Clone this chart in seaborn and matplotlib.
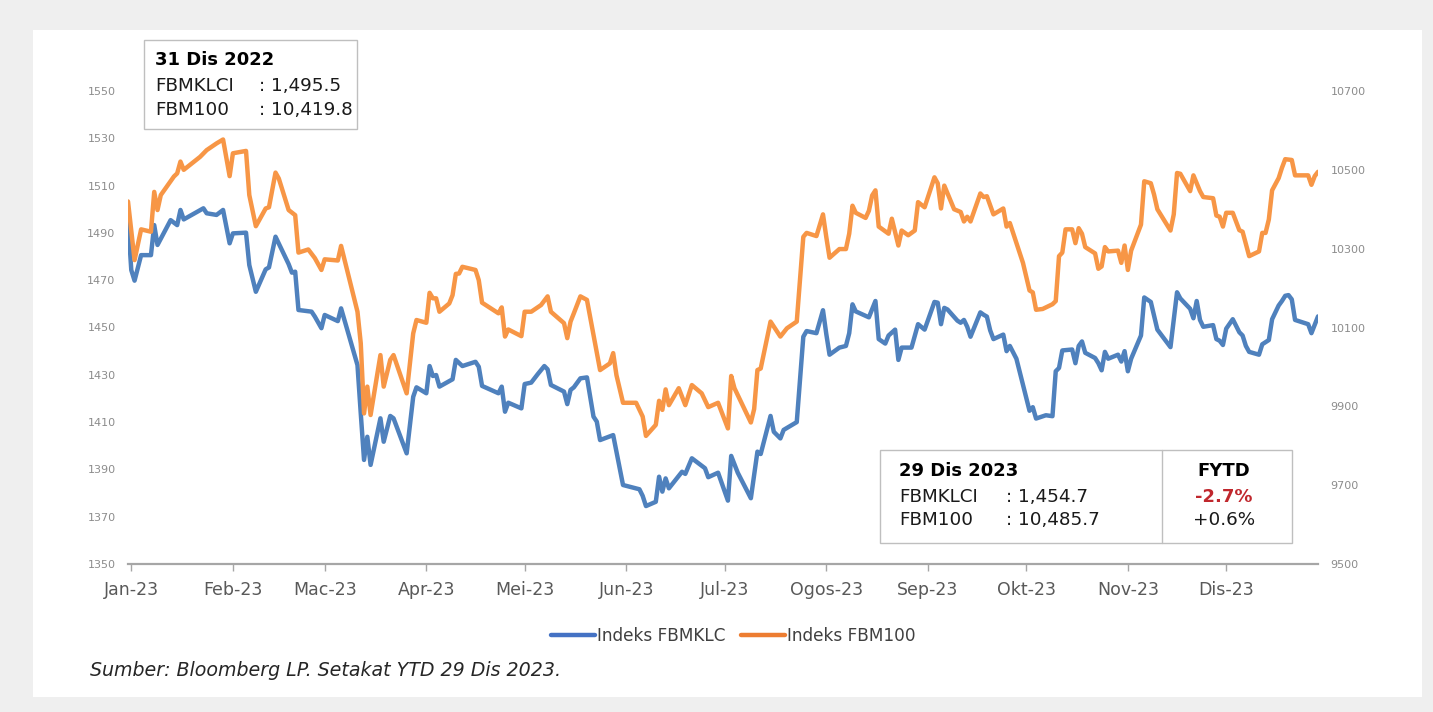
import matplotlib
matplotlib.use("Agg")
import matplotlib.pyplot as plt
from matplotlib.lines import Line2D
from matplotlib.patches import Rectangle
import pandas as pd
import seaborn as sns

# ---------------- data ----------------
month_ticks = ['2023-01-01', '2023-02-01', '2023-03-01', '2023-04-01', '2023-05-01', '2023-06-01',
               '2023-07-01', '2023-08-01', '2023-09-01', '2023-10-01', '2023-11-01', '2023-12-01']
month_labels = ['Jan-23', 'Feb-23', 'Mac-23', 'Apr-23', 'Mei-23', 'Jun-23',
                'Jul-23', 'Ogos-23', 'Sep-23', 'Okt-23', 'Nov-23', 'Dis-23']

klci_dates = [
    '2022-12-31', '2023-01-01', '2023-01-02', '2023-01-04', '2023-01-07', '2023-01-08', '2023-01-09', '2023-01-13',
    '2023-01-15', '2023-01-16', '2023-01-17', '2023-01-23', '2023-01-24', '2023-01-27', '2023-01-29', '2023-01-31',
    '2023-02-01', '2023-02-05', '2023-02-06', '2023-02-08', '2023-02-11', '2023-02-12', '2023-02-14', '2023-02-18',
    '2023-02-19', '2023-02-20', '2023-02-21', '2023-02-25', '2023-02-26', '2023-02-28',
    '2023-03-01', '2023-03-05', '2023-03-06', '2023-03-11', '2023-03-12', '2023-03-13', '2023-03-14', '2023-03-15',
    '2023-03-18', '2023-03-19', '2023-03-21', '2023-03-22', '2023-03-26', '2023-03-28', '2023-03-29',
    '2023-04-01', '2023-04-02', '2023-04-03', '2023-04-04', '2023-04-05', '2023-04-09', '2023-04-10', '2023-04-12',
    '2023-04-16', '2023-04-17', '2023-04-18', '2023-04-23', '2023-04-24', '2023-04-25', '2023-04-26', '2023-04-30',
    '2023-05-01', '2023-05-03', '2023-05-05', '2023-05-07', '2023-05-08', '2023-05-09', '2023-05-13', '2023-05-14',
    '2023-05-15', '2023-05-16', '2023-05-18', '2023-05-20', '2023-05-22', '2023-05-23', '2023-05-24', '2023-05-28',
    '2023-05-31',
    '2023-06-05', '2023-06-06', '2023-06-07', '2023-06-10', '2023-06-11', '2023-06-12', '2023-06-13', '2023-06-14',
    '2023-06-18', '2023-06-19', '2023-06-21', '2023-06-25', '2023-06-26', '2023-06-29',
    '2023-07-02', '2023-07-03', '2023-07-05', '2023-07-09', '2023-07-11', '2023-07-12', '2023-07-15', '2023-07-16',
    '2023-07-18', '2023-07-19', '2023-07-23', '2023-07-25', '2023-07-26', '2023-07-29', '2023-07-31',
    '2023-08-01', '2023-08-02', '2023-08-05', '2023-08-07', '2023-08-08', '2023-08-09', '2023-08-10', '2023-08-14',
    '2023-08-16', '2023-08-17', '2023-08-19', '2023-08-20', '2023-08-22', '2023-08-23', '2023-08-24', '2023-08-27',
    '2023-08-29', '2023-08-31',
    '2023-09-03', '2023-09-04', '2023-09-05', '2023-09-06', '2023-09-07', '2023-09-10', '2023-09-11', '2023-09-12',
    '2023-09-13', '2023-09-14', '2023-09-17', '2023-09-18', '2023-09-19', '2023-09-20', '2023-09-21', '2023-09-24',
    '2023-09-25', '2023-09-26', '2023-09-28',
    '2023-10-02', '2023-10-03', '2023-10-04', '2023-10-07', '2023-10-09', '2023-10-10', '2023-10-11', '2023-10-12',
    '2023-10-15', '2023-10-16', '2023-10-17', '2023-10-18', '2023-10-19', '2023-10-22', '2023-10-23', '2023-10-24',
    '2023-10-25', '2023-10-26', '2023-10-29', '2023-10-30', '2023-10-31',
    '2023-11-01', '2023-11-02', '2023-11-05', '2023-11-06', '2023-11-08', '2023-11-10', '2023-11-14', '2023-11-15',
    '2023-11-16', '2023-11-17', '2023-11-20', '2023-11-21', '2023-11-22', '2023-11-23', '2023-11-24', '2023-11-27',
    '2023-11-28', '2023-11-29', '2023-11-30',
    '2023-12-01', '2023-12-03', '2023-12-05', '2023-12-06', '2023-12-07', '2023-12-08', '2023-12-11', '2023-12-12',
    '2023-12-14', '2023-12-15', '2023-12-17', '2023-12-18', '2023-12-19', '2023-12-20', '2023-12-21', '2023-12-22',
    '2023-12-26', '2023-12-27', '2023-12-29',
]
klci_vals = [
    1495.5, 1474.3, 1469.8, 1480.6, 1480.6, 1493.3, 1484.9, 1495.4, 1493.3, 1499.7, 1495.7, 1500.4, 1498.3, 1497.6,
    1499.7, 1485.6,
    1489.8, 1490.1, 1476.4, 1465.1, 1474.6, 1475.4, 1488.4, 1476.8, 1473.2, 1473.6, 1457.4, 1456.7, 1454.6, 1449.7,
    1455.3, 1452.7, 1458.1, 1434.1, 1413.7, 1394.0, 1403.8, 1391.9, 1411.6, 1401.7, 1412.6, 1411.6, 1396.8, 1420.7,
    1424.7,
    1422.2, 1433.7, 1429.5, 1429.9, 1425.0, 1428.1, 1436.3, 1433.7, 1435.5, 1433.4, 1425.3, 1422.2, 1425.0, 1414.4,
    1418.2, 1415.8,
    1426.1, 1426.7, 1430.3, 1433.7, 1432.3, 1425.7, 1422.9, 1417.6, 1423.6, 1424.7, 1428.5, 1428.9, 1412.3, 1410.2,
    1402.4, 1404.5, 1383.4,
    1381.6, 1378.8, 1374.5, 1376.3, 1386.9, 1380.6, 1386.2, 1382.0, 1389.0, 1388.1, 1394.7, 1390.5, 1386.7, 1388.6,
    1376.8, 1395.7, 1388.6, 1377.8, 1397.5, 1396.5, 1412.6, 1405.9, 1403.1, 1406.7, 1410.0, 1446.1, 1448.5, 1447.6,
    1457.3,
    1447.3, 1438.5, 1441.5, 1442.2, 1447.6, 1459.8, 1456.8, 1454.3, 1461.2, 1445.1, 1443.2, 1446.6, 1449.1, 1436.3,
    1441.5, 1441.5, 1451.4, 1449.1,
    1460.8, 1460.5, 1451.4, 1458.3, 1457.6, 1452.9, 1452.0, 1453.2, 1450.3, 1446.1, 1456.4, 1455.4, 1454.6, 1448.8,
    1445.1, 1447.0, 1440.0, 1442.2, 1436.8,
    1414.8, 1416.3, 1411.5, 1412.9, 1412.5, 1431.5, 1432.9, 1440.3, 1440.7, 1434.9, 1442.2, 1444.1, 1439.3, 1437.1,
    1434.9, 1431.9, 1439.7, 1436.8, 1438.5, 1435.6, 1440.0,
    1431.5, 1436.8, 1446.6, 1462.7, 1460.8, 1449.1, 1441.7, 1453.2, 1464.9, 1462.3, 1457.9, 1453.9, 1461.2, 1453.2,
    1450.3, 1451.0, 1445.1, 1444.4, 1442.6,
    1449.5, 1453.5, 1448.0, 1446.6, 1442.2, 1439.7, 1438.5, 1442.9, 1444.7, 1453.5, 1459.3, 1461.2, 1463.4, 1463.7,
    1461.9, 1453.2, 1451.4, 1447.6, 1454.7,
]

fbm_dates = [
    '2022-12-31', '2023-01-02', '2023-01-04', '2023-01-07', '2023-01-08', '2023-01-09', '2023-01-10', '2023-01-14',
    '2023-01-15', '2023-01-16', '2023-01-17', '2023-01-22', '2023-01-24', '2023-01-27', '2023-01-29', '2023-01-31',
    '2023-02-01', '2023-02-05', '2023-02-06', '2023-02-08', '2023-02-11', '2023-02-12', '2023-02-14', '2023-02-15',
    '2023-02-18', '2023-02-20', '2023-02-21', '2023-02-24', '2023-02-26', '2023-02-28',
    '2023-03-01', '2023-03-05', '2023-03-06', '2023-03-11', '2023-03-12', '2023-03-13', '2023-03-14', '2023-03-15',
    '2023-03-18', '2023-03-19', '2023-03-21', '2023-03-22', '2023-03-26', '2023-03-28', '2023-03-29',
    '2023-04-01', '2023-04-02', '2023-04-03', '2023-04-04', '2023-04-05', '2023-04-08', '2023-04-09', '2023-04-10',
    '2023-04-11', '2023-04-12', '2023-04-16', '2023-04-17', '2023-04-18', '2023-04-23', '2023-04-24', '2023-04-25',
    '2023-04-26', '2023-04-30',
    '2023-05-01', '2023-05-03', '2023-05-06', '2023-05-08', '2023-05-09', '2023-05-13', '2023-05-14', '2023-05-15',
    '2023-05-16', '2023-05-18', '2023-05-20', '2023-05-24', '2023-05-27', '2023-05-28', '2023-05-29', '2023-05-31',
    '2023-06-04', '2023-06-06', '2023-06-07', '2023-06-10', '2023-06-11', '2023-06-12', '2023-06-13', '2023-06-14',
    '2023-06-17', '2023-06-19', '2023-06-21', '2023-06-24', '2023-06-26', '2023-06-29',
    '2023-07-02', '2023-07-03', '2023-07-04', '2023-07-09', '2023-07-10', '2023-07-11', '2023-07-12', '2023-07-15',
    '2023-07-18', '2023-07-20', '2023-07-23', '2023-07-25', '2023-07-26', '2023-07-29', '2023-07-31',
    '2023-08-01', '2023-08-02', '2023-08-05', '2023-08-07', '2023-08-08', '2023-08-09', '2023-08-10', '2023-08-13',
    '2023-08-14', '2023-08-15', '2023-08-16', '2023-08-17', '2023-08-20', '2023-08-21', '2023-08-23', '2023-08-24',
    '2023-08-26', '2023-08-28', '2023-08-29', '2023-08-31',
    '2023-09-03', '2023-09-04', '2023-09-05', '2023-09-06', '2023-09-09', '2023-09-11', '2023-09-12', '2023-09-13',
    '2023-09-14', '2023-09-17', '2023-09-18', '2023-09-19', '2023-09-21', '2023-09-24', '2023-09-25', '2023-09-26',
    '2023-09-30',
    '2023-10-02', '2023-10-03', '2023-10-04', '2023-10-06', '2023-10-09', '2023-10-10', '2023-10-11', '2023-10-12',
    '2023-10-13', '2023-10-15', '2023-10-16', '2023-10-17', '2023-10-18', '2023-10-19', '2023-10-22', '2023-10-23',
    '2023-10-24', '2023-10-25', '2023-10-26', '2023-10-29', '2023-10-30', '2023-10-31',
    '2023-11-01', '2023-11-02', '2023-11-05', '2023-11-06', '2023-11-08', '2023-11-09', '2023-11-10', '2023-11-14',
    '2023-11-15', '2023-11-16', '2023-11-17', '2023-11-20', '2023-11-21', '2023-11-23', '2023-11-24', '2023-11-27',
    '2023-11-28', '2023-11-29', '2023-11-30',
    '2023-12-01', '2023-12-03', '2023-12-05', '2023-12-06', '2023-12-08', '2023-12-11', '2023-12-12', '2023-12-13',
    '2023-12-14', '2023-12-15', '2023-12-17', '2023-12-18', '2023-12-19', '2023-12-21', '2023-12-22', '2023-12-26',
    '2023-12-27', '2023-12-28', '2023-12-29',
]
fbm_vals = [
    10419.8, 10271, 10349, 10343, 10444, 10398, 10436, 10483, 10491, 10521, 10500, 10533, 10550, 10567, 10577, 10484,
    10542, 10548, 10436, 10357, 10402, 10405, 10493, 10478, 10398, 10385, 10290, 10298, 10276, 10246,
    10273, 10270, 10307, 10140, 10060, 9882, 9950, 9878, 10030, 9950, 10018, 10030, 9933, 10085, 10119,
    10112, 10188, 10174, 10174, 10140, 10161, 10182, 10236, 10237, 10254, 10246, 10220, 10163, 10136, 10151, 10077,
    10095, 10078,
    10140, 10140, 10157, 10179, 10140, 10111, 10073, 10115, 10136, 10179, 10170, 9992, 10009, 10035, 9979, 9909,
    9909, 9874, 9825, 9853, 9914, 9891, 9943, 9903, 9946, 9903, 9954, 9933, 9898, 9909,
    9844, 9977, 9946, 9859, 9893, 9992, 9996, 10115, 10077, 10098, 10115, 10330, 10340, 10332, 10387,
    10330, 10277, 10299, 10299, 10338, 10409, 10391, 10378, 10396, 10435, 10448, 10356, 10338, 10376, 10308, 10346,
    10334, 10346, 10418, 10405,
    10481, 10466, 10402, 10460, 10400, 10393, 10369, 10381, 10369, 10440, 10431, 10433, 10387, 10402, 10356, 10365,
    10264,
    10194, 10189, 10145, 10147, 10159, 10167, 10281, 10290, 10349, 10349, 10314, 10352, 10338, 10304, 10288, 10249,
    10255, 10304, 10293, 10295, 10264, 10308,
    10246, 10295, 10361, 10471, 10466, 10437, 10400, 10346, 10387, 10492, 10490, 10446, 10486, 10446, 10431, 10428,
    10384, 10381, 10356,
    10391, 10391, 10347, 10343, 10281, 10293, 10340, 10340, 10374, 10448, 10479, 10505, 10527, 10525, 10486, 10486,
    10462, 10484, 10495,
]

series_names = ['Indeks FBMKLC', 'Indeks FBM100']
start_title = '31 Dis 2022'
start_rows = [('FBMKLCI', ': 1,495.5'), ('FBM100', ': 10,419.8')]
end_title = '29 Dis 2023'
end_rows = [('FBMKLCI', ': 1,454.7'), ('FBM100', ': 10,485.7')]
fytd = ['-2.7%', '+0.6%']
source = 'Sumber: Bloomberg LP. Setakat YTD 29 Dis 2023.'

# ---------------- style ----------------
sns.set_theme(style="white")
plt.rcParams['font.family'] = ['DejaVu Sans']

BLUE = '#4f81bd'
ORANGE = '#f79646'
BLUE_LEG = '#4472c4'
ORANGE_LEG = '#ed7d31'
TXT = '#1a1a1a'
BOX_FS = 13.2

W, H = 1433, 712
fig = plt.figure(figsize=(W / 100, H / 100), dpi=100)
fig.patch.set_facecolor('#efefef')
fig.add_artist(Rectangle((33 / W, 1 - 697 / H), (1422 - 33) / W, (697 - 30) / H,
                         transform=fig.transFigure, facecolor='white', edgecolor='none', zorder=0))


def fx(px):
    return px / W


def fy(py):
    return 1 - py / H


ax = fig.add_axes([fx(128), fy(564), (1318 - 128) / W, (564 - 91) / H])
ax.set_facecolor('none')
ax2 = ax.twinx()

df_k = pd.DataFrame({'Tarikh': pd.to_datetime(klci_dates), 'Nilai': klci_vals})
df_f = pd.DataFrame({'Tarikh': pd.to_datetime(fbm_dates), 'Nilai': fbm_vals})

sns.lineplot(data=df_k, x='Tarikh', y='Nilai', ax=ax, color=BLUE, linewidth=3.2,
             estimator=None, legend=False, solid_joinstyle='round', solid_capstyle='round')
sns.lineplot(data=df_f, x='Tarikh', y='Nilai', ax=ax2, color=ORANGE, linewidth=3.2,
             estimator=None, legend=False, solid_joinstyle='round', solid_capstyle='round')

ax.set_xlim(pd.Timestamp('2022-12-31'), pd.Timestamp('2023-12-29'))
ax.set_ylim(1350, 1550)
ax.set_yticks(list(range(1350, 1551, 20)))
ax2.set_ylim(9500, 10700)
ax2.set_yticks(list(range(9500, 10701, 200)))
ax.set_xticks(pd.to_datetime(month_ticks))
ax.set_xticklabels(month_labels)

for a in (ax, ax2):
    a.set_xlabel('')
    a.set_ylabel('')
    a.grid(False)
    for s in ('top', 'left', 'right', 'bottom'):
        a.spines[s].set_visible(False)
ax.spines['bottom'].set_visible(True)
ax.spines['bottom'].set_color('#a6a6a6')
ax.spines['bottom'].set_linewidth(1.6)

ax.tick_params(axis='x', bottom=True, length=5, width=1, color='#a6a6a6', pad=7,
               labelsize=12.5, labelcolor='#595959')
ax.tick_params(axis='y', left=True, length=0, pad=9, labelsize=8, labelcolor='#8c8c8c')
ax2.tick_params(axis='y', right=True, labelright=True, length=0, pad=9, labelsize=8, labelcolor='#8c8c8c')

# legend
handles = [Line2D([0], [0], color=BLUE_LEG, lw=3.2, solid_capstyle='round'),
           Line2D([0], [0], color=ORANGE_LEG, lw=3.2, solid_capstyle='round')]
fig.legend(handles, series_names, loc='center', bbox_to_anchor=(fx(733), fy(636)), ncol=2,
           frameon=False, fontsize=12.2, handlelength=2.6, handletextpad=0.12, columnspacing=0.9,
           labelcolor='#404040')

# start box
fig.add_artist(Rectangle((fx(144), fy(129)), (357 - 144) / W, (129 - 40) / H, transform=fig.transFigure,
                         facecolor='white', edgecolor='#bfbfbf', linewidth=1, zorder=5))
fig.text(fx(155), fy(60), start_title, fontsize=13, fontweight='bold', color='black', va='center', zorder=6)
for i, (k, v) in enumerate(start_rows):
    yy = fy(86 + 24 * i)
    fig.text(fx(155), yy, k, fontsize=BOX_FS, color=TXT, va='center', zorder=6)
    fig.text(fx(259), yy, v, fontsize=BOX_FS, color=TXT, va='center', zorder=6)

# end box
fig.add_artist(Rectangle((fx(880), fy(543)), (1292 - 880) / W, (543 - 450) / H, transform=fig.transFigure,
                         facecolor='white', edgecolor='#bfbfbf', linewidth=1, zorder=5))
fig.add_artist(Line2D([fx(1162), fx(1162)], [fy(450), fy(543)], transform=fig.transFigure,
                      color='#bfbfbf', linewidth=1, zorder=6))
fig.text(fx(899), fy(471), end_title, fontsize=13, fontweight='bold', color='black', va='center', zorder=6)
for i, (k, v) in enumerate(end_rows):
    yy = fy(497 + 23 * i)
    fig.text(fx(899), yy, k, fontsize=BOX_FS, color=TXT, va='center', zorder=6)
    fig.text(fx(1006), yy, v, fontsize=BOX_FS, color=TXT, va='center', zorder=6)
fig.text(fx(1224), fy(471), 'FYTD', fontsize=13, fontweight='bold', color='black', va='center',
         ha='center', zorder=6)
fig.text(fx(1224), fy(497), fytd[0], fontsize=13, fontweight='bold', color='#c0272d', va='center',
         ha='center', zorder=6)
fig.text(fx(1224), fy(520), fytd[1], fontsize=BOX_FS, color=TXT, va='center', ha='center', zorder=6)

# source
fig.text(fx(90), fy(670), source, fontsize=13.7, style='italic', color='#262626', va='center')

fig.savefig('out.png', dpi=100, facecolor=fig.get_facecolor())
